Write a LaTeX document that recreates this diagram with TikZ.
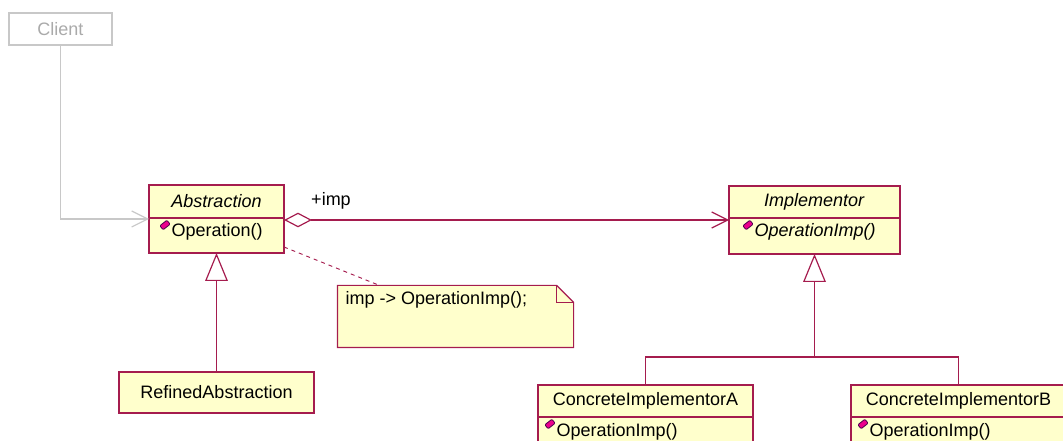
\documentclass[tikz,border=0pt]{standalone}
\usepackage{fontspec}
\setmainfont{Liberation Sans}
\usetikzlibrary{positioning,arrows.meta}

\definecolor{umlred}{RGB}{165,28,78}
\definecolor{umlfill}{RGB}{255,255,204}
\definecolor{umlgray}{RGB}{200,200,200}
\definecolor{umlgraytext}{RGB}{170,170,170}

% small operation marker
\newcommand{\opicon}[1]{\filldraw[draw=violet!60!black, fill=magenta, line width=0.6pt, rounded corners=0.8pt, shift={#1}, rotate=38] (-4.5,-2.6) rectangle (4.5,2.6);}

\begin{document}
\begin{tikzpicture}[x=0.75pt, y=-0.75pt, line width=0.9pt, font=\fontsize{13.5}{16}\selectfont,
    cls/.style={rectangle, draw=umlred, fill=umlfill, inner sep=0pt, outer sep=0pt},
    optext/.style={anchor=west, inner sep=0pt},
    dep/.style={draw=umlgray, -{Straight Barb[length=12pt, width=12pt]}},
    assoc/.style={draw=umlred, {Diamond[open, length=21pt, width=11pt]}-{Straight Barb[length=12pt, width=12pt]}},
    inherit/.style={draw=umlred, -{Triangle[open, length=21pt, width=17pt]}}]
        \useasboundingbox (0,0) rectangle (1063,441);
        \node(client) at (60.5,29) [rectangle, draw=umlgray, text=umlgraytext, minimum width=77.25pt, minimum height=24pt] {Client};

        \node(abs) at (216.5,201.5) [cls, minimum width=101.25pt, minimum height=24.75pt] {\textit{Abstraction}};
        \node(absop) [cls, below=0pt of abs, minimum width=101.25pt, minimum height=26.25pt] {};
        \node(absoptxt) at (171,232) [optext] {Operation()};
        \opicon{(165,225)}

        \node(impl) at (814.5,202) [cls, minimum width=128.25pt, minimum height=24pt] {\textit{Implementor}};
        \node(implop) [cls, below=0pt of impl, minimum width=128.25pt, minimum height=27pt] {};
        \node(imploptxt) at (754,232) [optext] {\textit{OperationImp()}};
        \opicon{(748,225)}

        \node(refined) at (216.5,392.5) [cls, minimum width=146.25pt, minimum height=30.75pt] {RefinedAbstraction};

        \node(cia) at (645.5,401) [cls, minimum width=161.25pt, minimum height=24pt] {ConcreteImplementorA};
        \node(ciaop) [cls, below=0pt of cia, minimum width=161.25pt, minimum height=30pt] {};
        \node(ciaoptxt) at (556,432) [optext] {OperationImp()};
        \opicon{(550,424)}

        \node(cib) at (958.5,401) [cls, minimum width=161.25pt, minimum height=24pt] {ConcreteImplementorB};
        \node(cibop) [cls, below=0pt of cib, minimum width=161.25pt, minimum height=30pt] {};
        \node(ciboptxt) at (869,432) [optext] {OperationImp()};
        \opicon{(863,424)}

        % note
        \node(note) at (455.5,316.5) [minimum width=176.25pt, minimum height=45.75pt, inner sep=0pt] {};
        \draw[draw=umlred, fill=umlfill] (note.north west) -- ([xshift=-12.75pt]note.north east) -- ([yshift=-12.75pt]note.north east) -- (note.south east) -- (note.south west) -- cycle;
        \draw[umlred] ([xshift=-12.75pt]note.north east) |- ([yshift=-12.75pt]note.north east);
        \node(notetxt) at (345,300) [optext] {imp -> OperationImp();};

        \draw[dep] (client) |- ([yshift=-0.75pt]absop.north west);
        \draw[assoc] ([yshift=-1.5pt]absop.north east) -- ([yshift=-1.5pt]implop.north west);
        \node(implabel) at (331,201) {+imp};
        \draw[umlred, dashed, line width=0.7pt] ([yshift=4.5pt]absop.south east) -- ([xshift=31.5pt]note.north west);

        \draw[inherit] (refined) -- (absop);
        \coordinate(fork) at (814.5,357);
        \draw[umlred] (cia) |- (fork);
        \draw[umlred] (cib) |- (fork);
        \draw[inherit] (fork) -- (implop.south);
    \end{tikzpicture}
\end{document}
